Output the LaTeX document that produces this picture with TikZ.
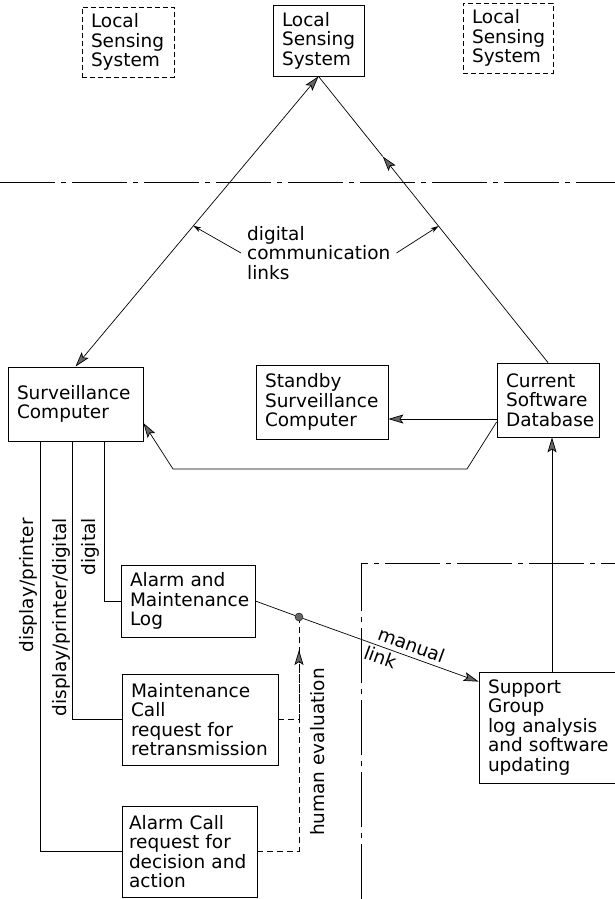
\documentclass[tikz,border=0pt]{standalone}
\usepackage{fontspec}
\setmainfont{DejaVu Sans}
\usepackage{tikz}
\usetikzlibrary{arrows.meta,calc}
\newcommand{\boxfont}{\fontsize{18.5}{19.5}\selectfont}
\tikzset{
  unit/.style={draw,line width=0.8pt,align=left,inner xsep=9pt,font=\boxfont},
  remote/.style={unit,dash pattern=on 5pt off 3pt},
  wire/.style={line width=0.7pt},
  head/.tip={Stealth[length=15pt,width=9pt,inset=3pt,fill=black!60]},
  arr/.style={wire,-head},
  darr/.style={wire,head-head},
  ptr/.style={wire,-{Stealth[length=8pt,width=5pt]}},
  lbl/.style={font=\boxfont,inner sep=0pt},
  boundary/.style={line width=0.8pt,dash pattern=on 55pt off 6pt on 5pt off 6pt},
}
\begin{document}
\begin{tikzpicture}[x=1pt,y=-1pt]
  \useasboundingbox[fill=white] (0,0) rectangle (615,899);
  % sensing systems
  \node[remote,text width=74pt,minimum height=70pt] (lsl) at (128,42) {Local\\Sensing\\System};
  \node[unit,text width=73pt,minimum height=71pt] (lsc) at (318.5,40.5) {Local\\Sensing\\System};
  \node[remote,text width=72pt,minimum height=70pt] (lsr) at (508,38) {Local\\Sensing\\System};
  % computers
  \node[unit,text width=117pt,minimum height=74pt] (sc) at (75.5,404) {Surveillance\\Computer};
  \node[unit,text width=114pt,minimum height=74pt] (sb) at (322,402) {Standby\\Surveillance\\Computer};
  \node[unit,text width=84pt,minimum height=74pt] (csd) at (548,400) {Current\\Software\\Database};
  % outputs
  \node[unit,text width=116pt,minimum height=72pt] (aml) at (188,601) {Alarm and\\Maintenance\\Log};
  \node[unit,text width=138pt,minimum height=91pt] (mc) at (200,719.5) {Maintenance\\Call\\request for\\retransmission};
  \node[unit,text width=121pt,inner xsep=7pt,minimum height=91pt] (ac) at (189.5,851.5) {Alarm Call\\request for\\decision and\\action};
  \node[unit,text width=128pt,minimum height=111pt] (sg) at (552,727.5) {Support\\Group\\log analysis\\and software\\updating};
  \node[circle,draw,fill=black!60,inner sep=0pt,minimum size=8pt] (jn) at (299,617) {};

  % boundaries
  \draw[boundary] (0,182) -- (615,182);
  \draw[boundary] (361,899) -- (361,563) -- (615,563);

  % communication links
  \draw[darr] (sc.north) -- (lsc.south);
  \coordinate (up) at ($(csd.north)!0.72!(lsc.south)$);
  \draw[arr] (csd.north) -- (up);
  \draw[wire] (up) -- (lsc.south);
  \node[lbl,align=left,anchor=west] (dcl) at (247,253) {digital\\communication\\links};
  \draw[ptr] ([xshift=-6pt]dcl.west) -- ($(sc.north)!0.485!(lsc.south)$);
  \draw[ptr] ([xshift=6pt]dcl.east) -- ($(csd.north)!0.477!(lsc.south)$);

  % software loading
  \draw[arr] ([yshift=-19pt]csd.west) -- ([yshift=-19pt]csd.west -| sb.east);
  \draw[arr] ([yshift=-22pt]csd.west) -- (467,469) -- (173,469) -- ([yshift=-19pt]sc.east);
  \draw[arr] (sg.north) -- (sg.north |- csd.south);

  % output lines
  \draw[wire] ([xshift=97pt]sc.south west) |- (aml.west);
  \draw[wire] ([xshift=65pt]sc.south west) |- (mc.west);
  \draw[wire] ([xshift=33pt]sc.south west) |- (ac.west);
  \node[lbl,rotate=90,anchor=east] (ldig) at (90,518) {digital};
  \node[lbl,rotate=90,anchor=east] (ldpd) at (61,518) {display/printer/digital};
  \node[lbl,rotate=90,anchor=east] (ldp) at (28,518) {display/printer};

  % manual link
  \coordinate (sgin) at ([yshift=-10pt]sg.north west);
  \draw[wire] (aml.east) -- (jn);
  \draw[arr] (jn) -- (sgin);
  \node[lbl,rotate=-20,anchor=south west] (lman) at ([yshift=5pt]$(jn)!0.43!(sgin)$) {manual};
  \node[lbl,rotate=-20,anchor=north west] (llnk) at ([yshift=-3pt]$(jn)!0.38!(sgin)$) {link};

  % human evaluation
  \coordinate (he) at ([yshift=-33pt]jn.center);
  \draw[wire,dash pattern=on 6pt off 4pt] (ac.east) -| (jn.south);
  \draw[wire,dash pattern=on 6pt off 4pt,-head] (mc.east) -| (he);
  \node[lbl,rotate=90] (lhum) at (318,752) {human evaluation};
\end{tikzpicture}
\end{document}
